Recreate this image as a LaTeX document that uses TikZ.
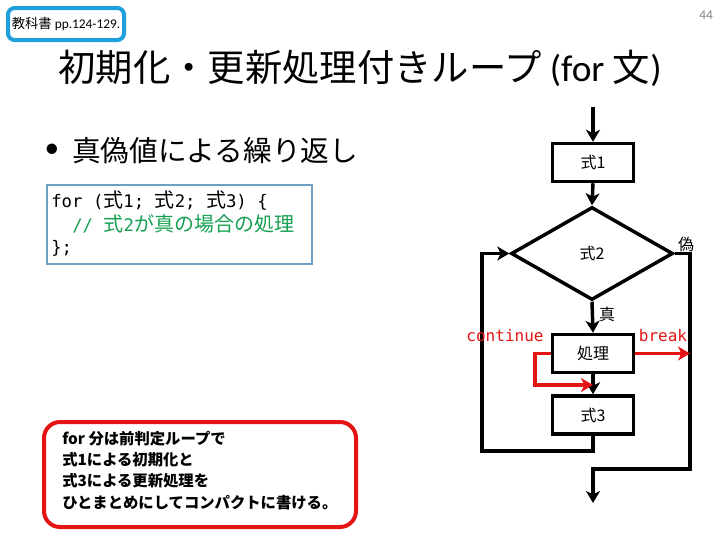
\documentclass[tikz,border=0pt]{standalone}
\usepackage{fontspec}
\setmainfont{Carlito}
\newfontfamily\jp{Noto Sans CJK JP}
\newfontfamily\cmono{DejaVu Sans Mono}
\newcommand\cjk[1]{{\jp\fontsize{15}{15}\selectfont #1}}
\usetikzlibrary{shapes.geometric,arrows.meta}
\definecolor{cblue}{RGB}{30,160,220}
\definecolor{cred}{RGB}{228,20,20}
\definecolor{cgreen}{RGB}{20,160,80}
\definecolor{codeedge}{RGB}{110,160,195}
\begin{document}
\begin{tikzpicture}[x=0.75pt,y=-0.75pt,
  fbox/.style={draw,line width=2.6pt,minimum width=60.75pt,minimum height=28.5pt,inner sep=0pt,font=\jp\fontsize{12}{14}\selectfont},
  arr/.style={line width=2.6pt,-{Stealth[length=9pt,width=10.5pt,inset=2.5pt]}},
  redarr/.style={arr,draw=cred},
  lbl/.style={inner sep=0pt,font=\jp\fontsize{12}{14}\selectfont},
  codeline/.style={anchor=west,inner sep=0pt,font=\cmono\fontsize{13}{15}\selectfont},
  noteline/.style={anchor=west,inner sep=0pt,font=\jp\bfseries\fontsize{11.5}{14}\selectfont}
]
\useasboundingbox (0,0) rectangle (720,540);
% header
\node[draw=cblue,line width=3pt,rounded corners=5pt,minimum width=87pt,minimum height=24pt,inner sep=0pt,font=\fontsize{10}{12}\selectfont] (ref) at (66,24) {{\jp\fontsize{10}{12}\selectfont 教科書} pp.124-129.};
\node[text=gray,font=\fontsize{10}{12}\selectfont,inner sep=0pt] (pg) at (706,15) {44};
\node[inner sep=0pt,font=\fontsize{28}{34}\selectfont] (title) at (360,68) {{\jp 初期化・更新処理付きループ} (for {\jp 文})};
% bullet
\node[inner sep=0pt,font=\fontsize{22}{26}\selectfont] (bul) at (52,151) {•};
\node[anchor=west,inner sep=0pt,font=\jp\fontsize{21.5}{26}\selectfont] (btext) at (72,151) {真偽値による繰り返し};
% code box
\node[draw=codeedge,line width=1.2pt,anchor=north west,minimum width=198.75pt,minimum height=59.25pt,inner sep=0pt] (codebox) at (46,184) {};
\node[codeline] (c1) at (51,201) {for (\cjk{式}1; \cjk{式}2; \cjk{式}3) \{};
\node[codeline,text=cgreen] (c2) at (72,224) {// \cjk{式}2\cjk{が真の場合の処理}};
\node[codeline] (c3) at (51,248) {\};};
% flowchart
\coordinate (start) at (593,107);
\coordinate (fin) at (593,503);
\node[fbox] (s1) at (593,162.5) {式1};
\node[draw,diamond,line width=2.6pt,minimum width=121.5pt,minimum height=69.75pt,inner sep=0pt,font=\jp\fontsize{12}{14}\selectfont] (d2) at (592,253.5) {式2};
\node[fbox] (proc) at (593,353.5) {処理};
\node[fbox] (s3) at (593,415) {式3};
\coordinate (lb) at (482,451);
\coordinate (rb) at (690,469);
\coordinate (cc) at (535,385);
\draw[arr] (start) -- (s1.north);
\draw[arr] (s1.south) -- (d2.north);
\draw[arr] (d2.south) -- (proc.north);
\draw[arr] (proc.south) -- (s3.north);
\draw[arr] (s3.south) |- (lb) |- (d2.west);
\draw[arr] (d2.east) -| (rb) -| (fin);
\draw[redarr] (proc.west) -| (cc) -- (cc -| s3.north);
\draw[redarr] (proc.east) -- (proc.east -| rb);
\node[lbl] (fl) at (686,244) {偽};
\node[lbl] (tr) at (607,314) {真};
\node[inner sep=0pt,text=cred,font=\cmono\fontsize{12}{14}\selectfont] (cont) at (505,336) {continue};
\node[inner sep=0pt,text=cred,font=\cmono\fontsize{12}{14}\selectfont] (brk) at (663,336) {break};
% note
\node[draw=cred,line width=3pt,rounded corners=12pt,anchor=north west,minimum width=234pt,minimum height=78.75pt,inner sep=0pt] (note) at (42,420) {};
\node[noteline] (n1) at (62,439) {for 分は前判定ループで};
\node[noteline] (n2) at (62,460) {式1による初期化と};
\node[noteline] (n3) at (62,481) {式3による更新処理を};
\node[noteline] (n4) at (62,503) {ひとまとめにしてコンパクトに書ける。};
\end{tikzpicture}
\end{document}
